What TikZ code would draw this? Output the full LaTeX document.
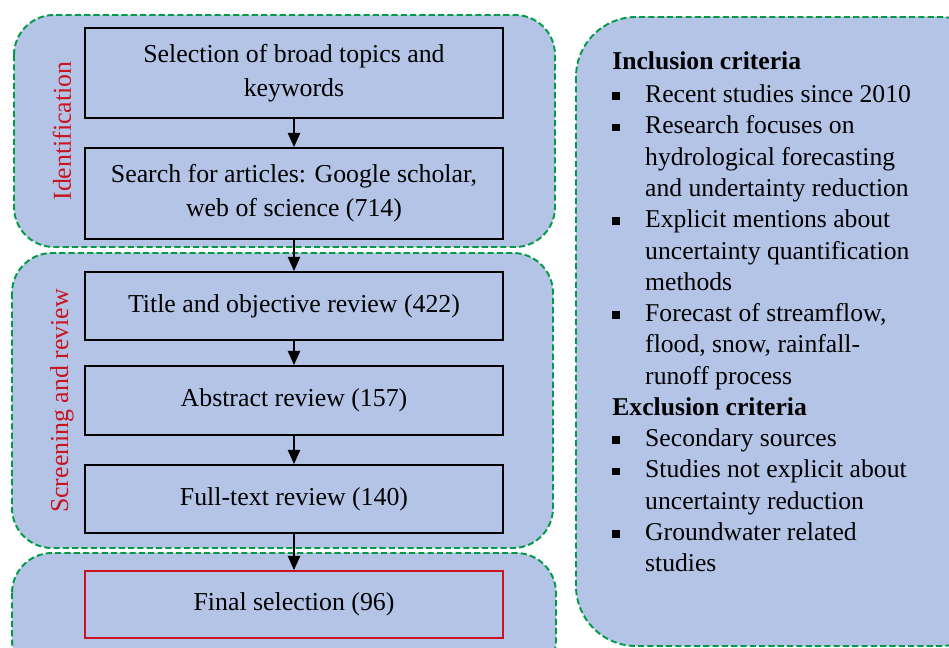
\documentclass[tikz,border=0pt]{standalone}
\usepackage{fontspec}
\setmainfont{Liberation Serif}
\usetikzlibrary{arrows.meta}

\definecolor{panelblue}{RGB}{180,196,230}
\definecolor{dashgreen}{RGB}{0,155,70}
\definecolor{labelred}{RGB}{200,20,30}

\newcommand{\sqbul}{\rule[0.25ex]{4.2pt}{4.2pt}}

\tikzset{
  panel/.style={fill=panelblue, draw=dashgreen, line width=1.1pt, dash pattern=on 3.5pt off 1.8pt, rounded corners=0.8cm},
  stepbox/.style={draw=black, line width=1.1pt, minimum width=8.36cm, align=center, inner sep=0pt,
    font=\fontsize{14.7}{19.4}\selectfont},
  sidelabel/.style={text=labelred, rotate=90, font=\fontsize{14.7}{16}\selectfont},
  flowarrow/.style={-{Triangle[length=8pt,width=7pt]}, line width=0.6pt}
}

\begin{document}
\begin{tikzpicture}[x=0.02cm,y=-0.02cm]
  \useasboundingbox (0,0) rectangle (949,648);
  \clip (0,0) rectangle (949,648);

  % background panels
  \draw[panel] (14,15) rectangle (555,247);
  \draw[panel] (12,253) rectangle (553,548);
  \draw[panel] (12,553) rectangle (556,680);
  \draw[panel, rounded corners=1.2cm] (576,17) rectangle (1000,646);

  \node[sidelabel] (ident) at (62,131) {Identification};
  \node[sidelabel] (screen) at (62,401) {Screening and review};

  % flow boxes
  \node[stepbox, minimum height=1.8cm]  (topics) at (294,73)    {Selection of broad topics and\\keywords};
  \node[stepbox, minimum height=1.82cm] (search) at (294,193.5) {Search for articles: Google scholar,\\web of science (714)};
  \node[stepbox, minimum height=1.36cm] (title)  at (294,306)   {Title and objective review (422)};
  \node[stepbox, minimum height=1.38cm] (abstr)  at (294,400.5) {Abstract review (157)};
  \node[stepbox, minimum height=1.36cm] (full)   at (294,499)   {Full-text review (140)};
  \node[stepbox, minimum height=1.34cm, draw=labelred] (final) at (294,604.5) {Final selection (96)};

  \draw[flowarrow] (topics) -- (search);
  \draw[flowarrow] (search) -- (title);
  \draw[flowarrow] (title)  -- (abstr);
  \draw[flowarrow] (abstr)  -- (full);
  \draw[flowarrow] (full)   -- (final);

  % criteria
  \node[anchor=base west, inner sep=0pt, font=\fontsize{14.6}{17.8}\selectfont] (crit) at (612,70) {%
    \begin{tabular}[t]{@{}p{18.7pt}@{}l@{}}
      \multicolumn{2}{@{}l}{\textbf{Inclusion criteria}}\\[0.8pt]
      \sqbul & Recent studies since 2010\\
      \sqbul & Research focuses on\\
             & hydrological forecasting\\
             & and undertainty reduction\\
      \sqbul & Explicit mentions about\\
             & uncertainty quantification\\
             & methods\\
      \sqbul & Forecast of streamflow,\\
             & flood, snow, rainfall-\\
             & runoff process\\
      \multicolumn{2}{@{}l}{\textbf{Exclusion criteria}}\\
      \sqbul & Secondary sources\\
      \sqbul & Studies not explicit about\\
             & uncertainty reduction\\
      \sqbul & Groundwater related\\
             & studies
    \end{tabular}};
\end{tikzpicture}
\end{document}
